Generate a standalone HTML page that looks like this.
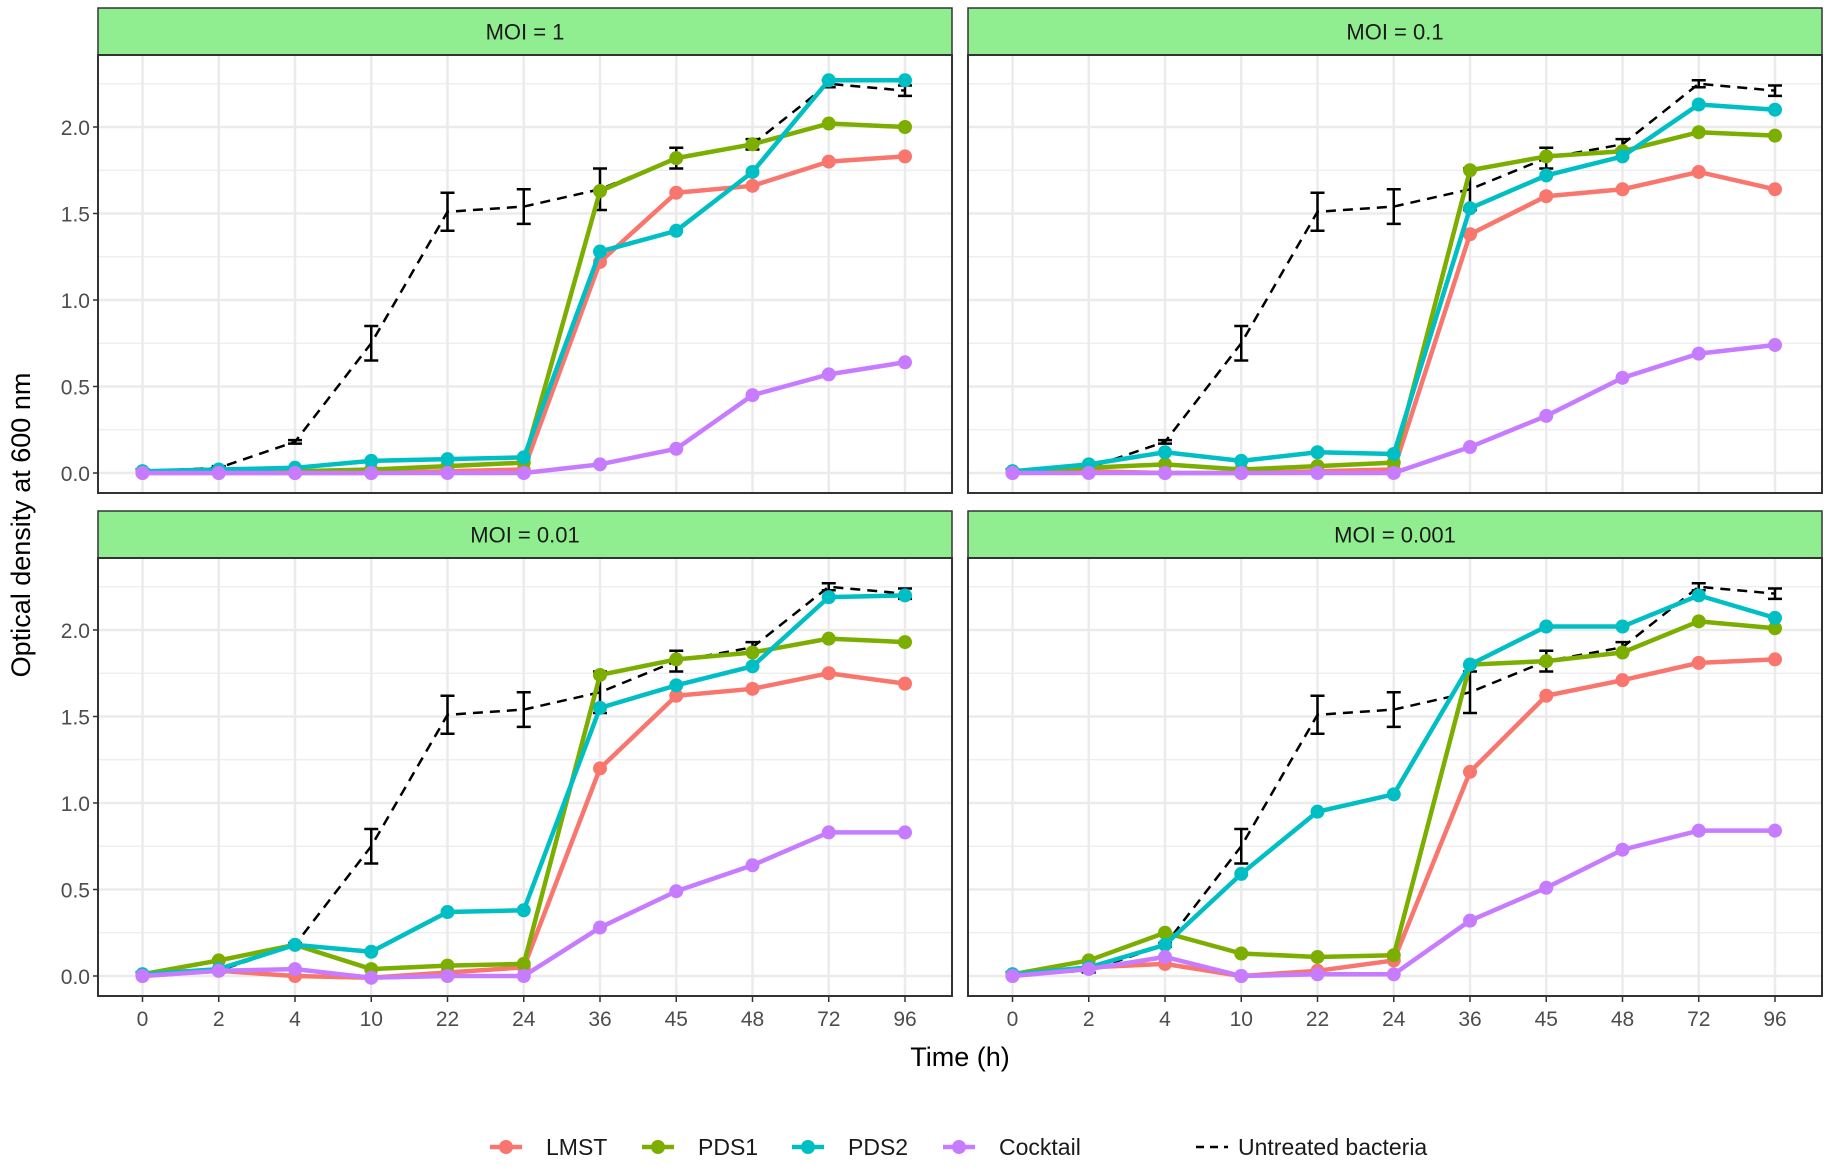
<!DOCTYPE html>
<html><head><meta charset="utf-8"><style>
body{margin:0;background:#fff;}
svg{display:block;font-family:"Liberation Sans",sans-serif;}
</style></head><body>
<svg id="chart" width="1831" height="1167" viewBox="0 0 1831 1167"></svg>
<script>
const categories=["0","2","4","10","22","24","36","45","48","72","96"];
const yTicks=[0,0.5,1,1.5,2];
const yTickLabels=["0.0","0.5","1.0","1.5","2.0"];
const panelTitles=["MOI = 1","MOI = 0.1","MOI = 0.01","MOI = 0.001"];
const seriesNames=["LMST","PDS1","PDS2","Cocktail"];
const untreated=[0.01,0.03,0.18,0.75,1.51,1.54,1.64,1.82,1.90,2.25,2.21];
const untreatedErr=[0.01,0.01,0.01,0.1,0.11,0.1,0.12,0.06,0.03,0.02,0.03];
const moi1LMST=[0,0,0,0,0.01,0.02,1.22,1.62,1.66,1.80,1.83];
const moi1PDS1=[0.01,0.01,0.01,0.02,0.04,0.06,1.63,1.82,1.90,2.02,2.00];
const moi1PDS2=[0.01,0.02,0.03,0.07,0.08,0.09,1.28,1.40,1.74,2.27,2.27];
const moi1Cocktail=[0,0,0,0,0,0,0.05,0.14,0.45,0.57,0.64];
const moi01LMST=[0,0.01,0,0,0.01,0.02,1.38,1.60,1.64,1.74,1.64];
const moi01PDS1=[0.01,0.03,0.05,0.02,0.04,0.06,1.75,1.83,1.86,1.97,1.95];
const moi01PDS2=[0.01,0.05,0.12,0.07,0.12,0.11,1.53,1.72,1.83,2.13,2.10];
const moi01Cocktail=[0,0,0,0,0,0,0.15,0.33,0.55,0.69,0.74];
const moi001LMST=[0,0.03,0,-0.01,0.02,0.05,1.20,1.62,1.66,1.75,1.69];
const moi001PDS1=[0.01,0.09,0.18,0.04,0.06,0.07,1.74,1.83,1.87,1.95,1.93];
const moi001PDS2=[0.01,0.04,0.18,0.14,0.37,0.38,1.55,1.68,1.79,2.19,2.20];
const moi001Cocktail=[0,0.03,0.04,-0.01,0,0,0.28,0.49,0.64,0.83,0.83];
const moi0001LMST=[0,0.05,0.07,0,0.03,0.09,1.18,1.62,1.71,1.81,1.83];
const moi0001PDS1=[0.01,0.09,0.25,0.13,0.11,0.12,1.80,1.82,1.87,2.05,2.01];
const moi0001PDS2=[0.01,0.05,0.18,0.59,0.95,1.05,1.80,2.02,2.02,2.20,2.07];
const moi0001Cocktail=[0,0.04,0.11,0,0.01,0.01,0.32,0.51,0.73,0.84,0.84];

const panelData=[[moi1LMST,moi1PDS1,moi1PDS2,moi1Cocktail],[moi01LMST,moi01PDS1,moi01PDS2,moi01Cocktail],[moi001LMST,moi001PDS1,moi001PDS2,moi001Cocktail],[moi0001LMST,moi0001PDS1,moi0001PDS2,moi0001Cocktail]];
const colors=["#F8766D","#7CAE00","#00BFC4","#C77CFF"];
const NS="http://www.w3.org/2000/svg";
const svg=document.getElementById('chart');
function mk(tag,attrs,parent,text){const e=document.createElementNS(NS,tag);for(const k in attrs)e.setAttribute(k,attrs[k]);if(text!==undefined)e.textContent=text;(parent||svg).appendChild(e);return e;}
const panels=[{x0:98,x1:952,sy:8,py:55,pb:493},{x0:968,x1:1822,sy:8,py:55,pb:493},{x0:98,x1:952,sy:511,py:558,pb:996},{x0:968,x1:1822,sy:511,py:558,pb:996}];
const pxPerUnit=173;
panels.forEach((p,pi)=>{
  const g=mk('g',{});
  
  
  const xs=i=>p.x0+44.5+i*76.25;
  const ys=v=>p.pb-20-v*pxPerUnit;
  const strip=mk('rect',{x:p.x0,y:p.sy,width:p.x1-p.x0,height:p.py-p.sy,fill:'#90EE90',stroke:'#333','stroke-width':1.5},g);
  
  
  const st=mk('text',{x:(p.x0+p.x1)/2,y:(p.sy+p.py)/2+8,'text-anchor':'middle','font-size':22,fill:'#1a1a1a'},g,panelTitles[pi]);
  
  
  mk('rect',{x:p.x0,y:p.py,width:p.x1-p.x0,height:p.pb-p.py,fill:'#fff'},g);
  for(let v=-0.25;v<=2.5;v+=0.25){const y=ys(v);if(y<p.py||y>p.pb)continue;mk('line',{x1:p.x0,x2:p.x1,y1:y,y2:y,stroke:'#ebebeb','stroke-width':Math.abs(v*2-Math.round(v*2))<1e-6?2.5:1.2},g);}
  categories.forEach((c,i)=>mk('line',{x1:xs(i),x2:xs(i),y1:p.py,y2:p.pb,stroke:'#ebebeb','stroke-width':2.5},g));
  let d=untreated.map((v,i)=>(i?'L':'M')+xs(i)+','+ys(v)).join('');
  const ul=mk('path',{d:d,fill:'none',stroke:'#000','stroke-width':2.5,'stroke-dasharray':'10,7'},g);
  
  
  untreated.forEach((v,i)=>{const e=untreatedErr[i];const x=xs(i);
    mk('path',{d:`M${x-7},${ys(v+e)}H${x+7}M${x},${ys(v+e)}V${ys(v-e)}M${x-7},${ys(v-e)}H${x+7}`,stroke:'#000','stroke-width':2.5,fill:'none'},g);});
  panelData[pi].forEach((arr,si)=>{
    const dd=arr.map((v,i)=>(i?'L':'M')+xs(i)+','+ys(v)).join('');
    const l=mk('path',{d:dd,fill:'none',stroke:colors[si],'stroke-width':4.5,'stroke-linejoin':'round'},g);
    
    
    arr.forEach((v,i)=>{const c=mk('circle',{cx:xs(i),cy:ys(v),r:7,fill:colors[si]},g);
      
      });
  });
  mk('rect',{x:p.x0,y:p.py,width:p.x1-p.x0,height:p.pb-p.py,fill:'none',stroke:'#333','stroke-width':2},g);
  if(pi%2===0){yTicks.forEach((t,k)=>{const y=ys(t);mk('line',{x1:p.x0-5,x2:p.x0,y1:y,y2:y,stroke:'#333','stroke-width':1.5},g);
    const tl=mk('text',{x:p.x0-8,y:y+8,'text-anchor':'end','font-size':21,fill:'#4d4d4d'},g,yTickLabels[k]);
    
    });}
  if(pi>=2){categories.forEach((c,i)=>{mk('line',{x1:xs(i),x2:xs(i),y1:p.pb,y2:p.pb+6,stroke:'#333','stroke-width':1.5},g);
    const tl=mk('text',{x:xs(i),y:p.pb+30,'text-anchor':'middle','font-size':21,fill:'#4d4d4d'},g,c);
    
    });}
});
const yt=mk('text',{x:30,y:525,'text-anchor':'middle','font-size':27,fill:'#000',transform:'rotate(-90 30 525)'},svg,'Optical density at 600 nm');


const xt=mk('text',{x:960,y:1066,'text-anchor':'middle','font-size':27,fill:'#000'},svg,'Time (h)');


const lg=mk('g',{});


const legX=[490,642,792,943];
seriesNames.forEach((n,i)=>{const x=legX[i];
  const e=mk('g',{},lg);
  
  
  mk('line',{x1:x,x2:x+32,y1:1147,y2:1147,stroke:colors[i],'stroke-width':4.5},e);
  mk('circle',{cx:x+16,cy:1147,r:7,fill:colors[i]},e);
  mk('text',{x:x+56,y:1155,'font-size':23,fill:'#1a1a1a'},e,n);});
const ue=mk('g',{},lg);


mk('line',{x1:1196,x2:1228,y1:1147,y2:1147,stroke:'#000','stroke-width':2.5,'stroke-dasharray':'8,6'},ue);
mk('text',{x:1238,y:1155,'font-size':23,fill:'#1a1a1a'},ue,'Untreated bacteria');
</script>
</body></html>
